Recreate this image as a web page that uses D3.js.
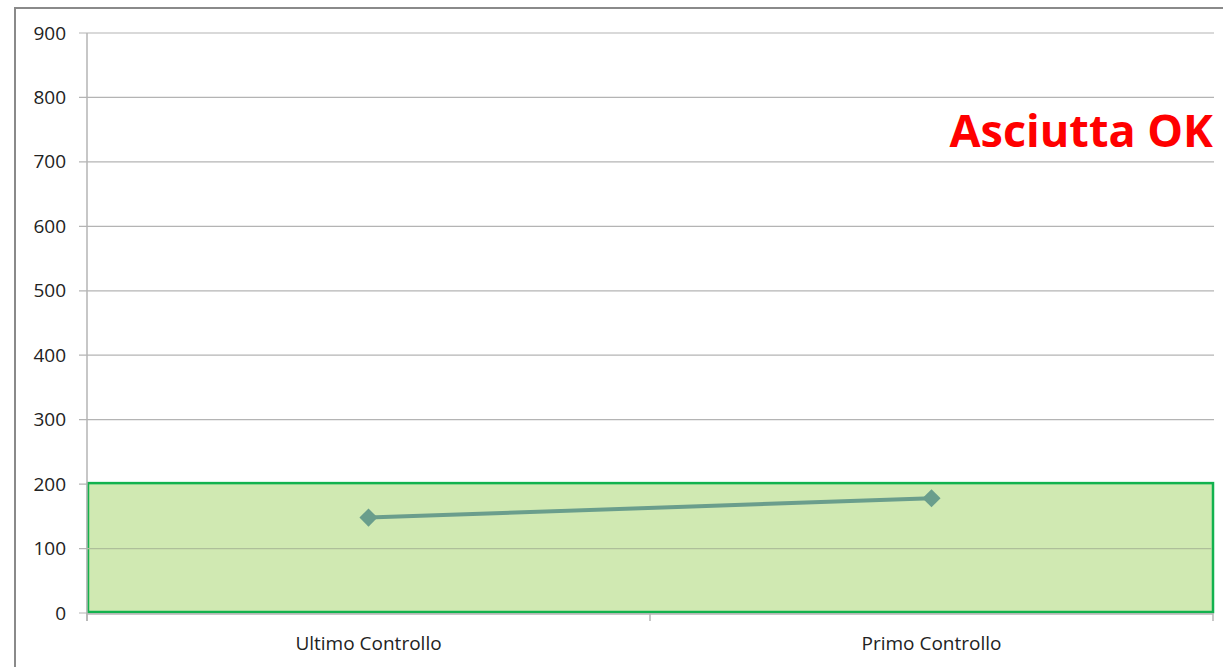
<!DOCTYPE html>
<html>
<head>
<meta charset="utf-8">
<script src="https://cdn.jsdelivr.net/npm/d3@7"></script>
<style>
body { margin: 0; background: #fff; }
svg { display: block; }
</style>
</head>
<body>
<div id="chart"></div>
<script>
var categories = ["Ultimo Controllo", "Primo Controllo"];
var values = [148, 178];
var yTicks = [0, 100, 200, 300, 400, 500, 600, 700, 800, 900];
var okBand = [0, 200];
var statusText = "Asciutta OK";

var W = 1223, H = 667;
var margin = { left: 87, right: 10, top: 33, bottom: 54 };

var svg = d3.select("#chart").append("svg")
    .attr("width", W)
    .attr("height", H);

// chart frame (only top and left visible)
svg.append("path")
    .attr("d", "M15," + H + "V8H" + W)
    .attr("fill", "none")
    .attr("stroke", "#8a8a8a")
    .attr("stroke-width", 2);

var x = d3.scaleBand()
    .domain(categories)
    .range([margin.left, 1213]);

var y = d3.scaleLinear()
    .domain([0, 900])
    .range([H - margin.bottom, margin.top]);

// gridlines
svg.append("g")
    .selectAll("line")
    .data(yTicks)
    .enter()
    .append("line")
    .attr("x1", margin.left - 8)
    .attr("x2", 1214)
    .attr("y1", function(d) { return y(d); })
    .attr("y2", function(d) { return y(d); })
    .attr("stroke", "#b4b4b4")
    .attr("stroke-width", 1.2);

// y axis
var yAxis = svg.append("g")
    .attr("transform", "translate(" + margin.left + ",0)")
    .call(d3.axisLeft(y).tickValues(yTicks).tickSize(0).tickPadding(21));
yAxis.select(".domain").remove();
yAxis.selectAll("text")
    .attr("font-family", "'Open Sans', sans-serif")
    .attr("font-size", 19)
    .attr("fill", "#222");

// ok band
svg.append("rect")
    .attr("x", x.range()[0] + 1)
    .attr("y", y(okBand[1]) - 1)
    .attr("width", x.range()[1] - x.range()[0] - 1)
    .attr("height", y(okBand[0]) - y(okBand[1]))
    .attr("fill", "#d0e9b2")
    .attr("stroke", "#12b24e")
    .attr("stroke-width", 2.5);

// gridline over the band at 100
svg.append("line")
    .attr("x1", margin.left)
    .attr("x2", 1212)
    .attr("y1", y(100))
    .attr("y2", y(100))
    .attr("stroke", "#aebf9a")
    .attr("stroke-width", 1.2);

// vertical axis line
svg.append("line")
    .attr("x1", margin.left)
    .attr("x2", margin.left)
    .attr("y1", y(900))
    .attr("y2", y(0) + 8)
    .attr("stroke", "#b4b4b4")
    .attr("stroke-width", 1.5);

// x axis
svg.append("line")
    .attr("x1", margin.left)
    .attr("x2", 1213)
    .attr("y1", y(0) + 1)
    .attr("y2", y(0) + 1)
    .attr("stroke", "#b4b4b4")
    .attr("stroke-width", 1.5);

var xTicks = [x.range()[0]].concat(categories.map(function(c) { return x(c) + x.bandwidth(); }));
svg.append("g")
    .selectAll("line")
    .data(xTicks)
    .enter()
    .append("line")
    .attr("x1", function(d) { return d; })
    .attr("x2", function(d) { return d; })
    .attr("y1", y(0))
    .attr("y2", y(0) + 8)
    .attr("stroke", "#b4b4b4")
    .attr("stroke-width", 1.5);

svg.append("g")
    .selectAll("text")
    .data(categories)
    .enter()
    .append("text")
    .attr("x", function(d) { return x(d) + x.bandwidth() / 2; })
    .attr("y", y(0) + 37)
    .attr("text-anchor", "middle")
    .attr("font-family", "'Open Sans', sans-serif")
    .attr("font-size", 19)
    .attr("fill", "#222")
    .text(function(d) { return d; });

// series line
var line = d3.line()
    .x(function(d, i) { return x(categories[i]) + x.bandwidth() / 2; })
    .y(function(d) { return y(d); });

svg.append("path")
    .datum(values)
    .attr("d", line)
    .attr("fill", "none")
    .attr("stroke", "#6a9e8c")
    .attr("stroke-width", 4);

svg.append("g")
    .selectAll("path")
    .data(values)
    .enter()
    .append("path")
    .attr("d", d3.symbol().type(d3.symbolDiamond2).size(210))
    .attr("transform", function(d, i) {
        return "translate(" + (x(categories[i]) + x.bandwidth() / 2) + "," + y(d) + ")";
    })
    .attr("fill", "#6a9e8c");

// status label
svg.append("text")
    .attr("x", 1213)
    .attr("y", 147)
    .attr("text-anchor", "end")
    .attr("font-family", "'Open Sans', sans-serif")
    .attr("font-weight", "bold")
    .attr("font-size", 45)
    .attr("fill", "#ff0000")
    .text(statusText);
</script>
</body>
</html>
